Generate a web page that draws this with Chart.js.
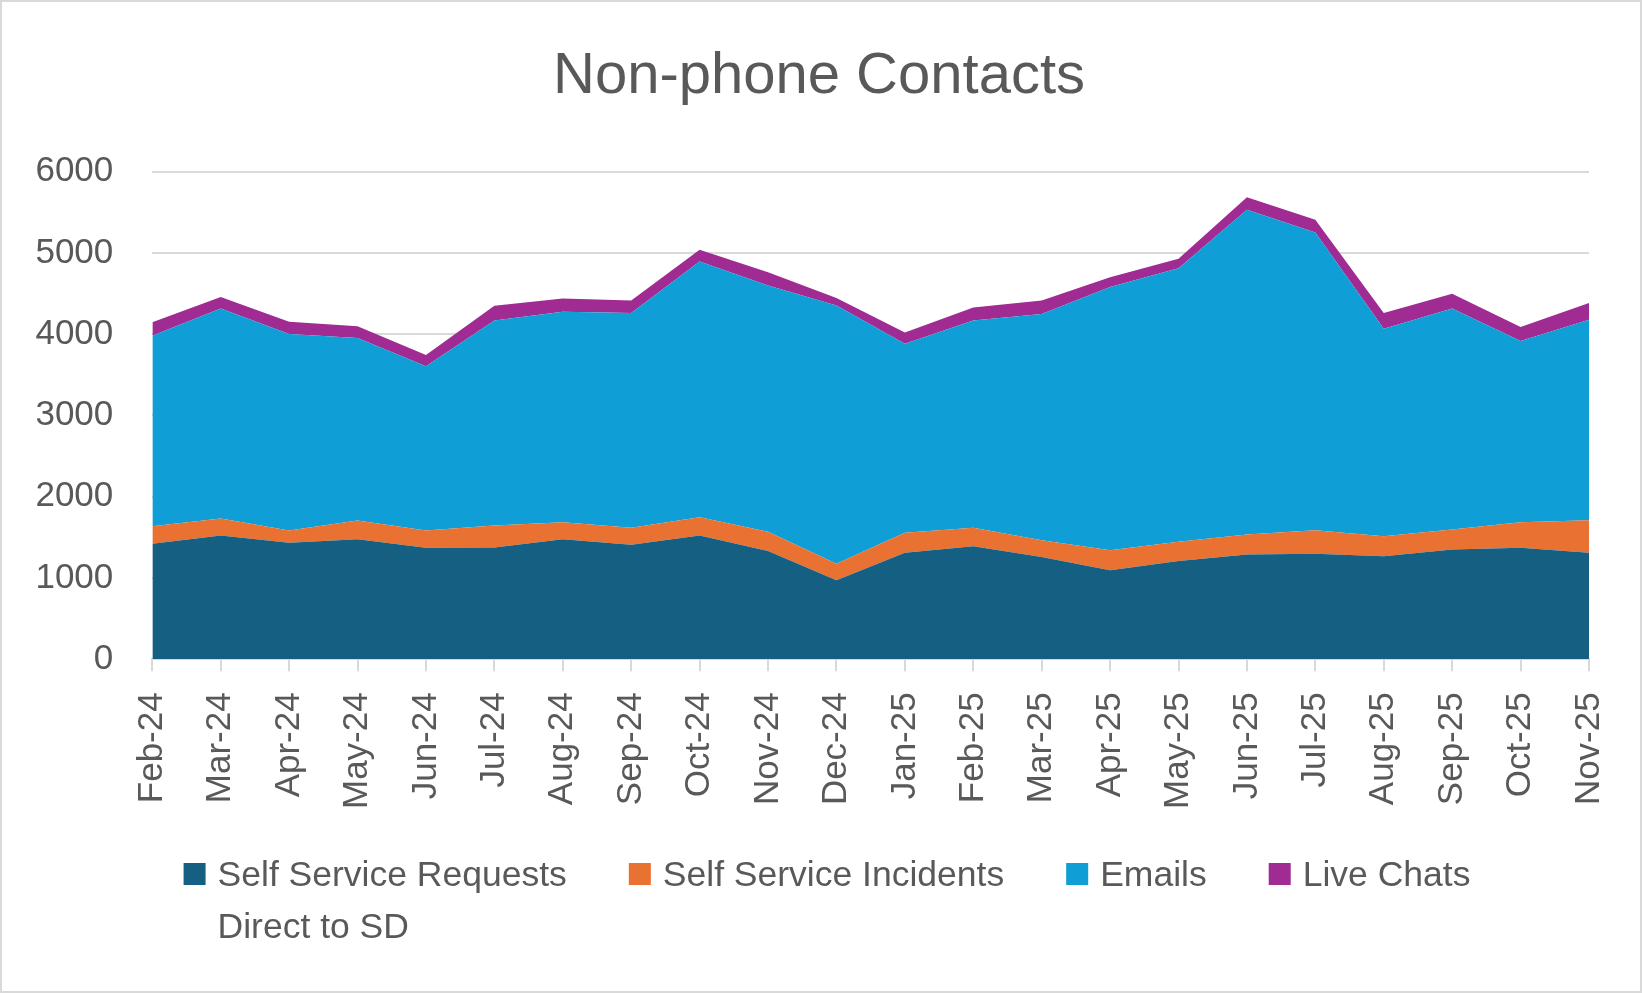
<!DOCTYPE html>
<html>
<head>
<meta charset="utf-8">
<script src="https://cdn.jsdelivr.net/npm/chart.js@4/dist/chart.umd.min.js"></script>
<style>
  body { margin: 0; background: #fff; }
  #wrap { width: 1642px; height: 993px; border: 2px solid #d9d9d9; box-sizing: border-box; }
</style>
</head>
<body>
<div id="wrap"><canvas id="contactsChart"></canvas></div>
<script>
const months = ["Feb-24", "Mar-24", "Apr-24", "May-24", "Jun-24", "Jul-24", "Aug-24", "Sep-24", "Oct-24", "Nov-24", "Dec-24",
    "Jan-25", "Feb-25", "Mar-25", "Apr-25", "May-25", "Jun-25", "Jul-25", "Aug-25", "Sep-25", "Oct-25", "Nov-25"];

const selfServiceRequests = [1421, 1524, 1433, 1478, 1371, 1376, 1478, 1408, 1524, 1331, 971,
    1310, 1392, 1257, 1097, 1208, 1290, 1298, 1269, 1352, 1371, 1310];
const selfServiceIncidents = [217, 209, 152, 230, 214, 271, 209, 209, 225, 237, 204,
    246, 225, 209, 246, 237, 246, 291, 246, 245, 316, 402];
const emails = [2343, 2584, 2416, 2244, 2019, 2522, 2589, 2642, 3145, 3031, 3179,
    2327, 2552, 2781, 3236, 3367, 3994, 3662, 2552, 2720, 2228, 2466];
const liveChats = [167, 139, 152, 144, 139, 181, 164, 156, 144, 164, 90,
    139, 160, 168, 122, 115, 154, 156, 192, 180, 172, 204];

const seriesLabels = [
    ["Self Service Requests", "Direct to SD"],
    ["Self Service Incidents"],
    ["Emails"],
    ["Live Chats"]
];
const seriesColors = ["#156082", "#E97132", "#0F9ED5", "#A02B93"];
const yTicks = [0, 1000, 2000, 3000, 4000, 5000, 6000];

const FONT = '"Liberation Sans", Arial, sans-serif';
const TEXT = "#595959";
const GRID = "#d9d9d9";

function area(idx, values) {
    return {
        label: seriesLabels[idx].join(" "),
        data: values,
        backgroundColor: seriesColors[idx],
        borderWidth: 0,
        pointRadius: 0,
        tension: 0,
        fill: idx === 0 ? "origin" : "-1"
    };
}

// legend drawn by hand so the first label can wrap onto a second line
const wrapLegend = {
    id: "wrapLegend",
    afterDraw(chart) {
        const ctx = chart.ctx;
        const box = 22, gapText = 12, gapItem = 62, lineGap = 52;
        ctx.save();
        ctx.font = "35.5px " + FONT;
        ctx.textBaseline = "alphabetic";
        const firstWidths = seriesLabels.map(lines => ctx.measureText(lines[0]).width);
        let total = 0;
        firstWidths.forEach((w, i) => { total += box + gapText + w + (i < firstWidths.length - 1 ? gapItem : 0); });
        let x = chart.width / 2 - total / 2 + 6;
        const baseY = chart.height - 105;
        seriesLabels.forEach((lines, i) => {
            ctx.fillStyle = seriesColors[i];
            ctx.fillRect(x, baseY - 23, box, box);
            ctx.fillStyle = TEXT;
            lines.forEach((line, j) => {
                ctx.fillText(line, x + box + gapText, baseY + j * lineGap);
            });
            x += box + gapText + firstWidths[i] + gapItem;
        });
        ctx.restore();
    }
};

const ctx = document.getElementById("contactsChart").getContext("2d");
new Chart(ctx, {
    type: "line",
    data: {
        labels: months,
        datasets: [
            area(0, selfServiceRequests),
            area(1, selfServiceIncidents),
            area(2, emails),
            area(3, liveChats)
        ]
    },
    options: {
        responsive: true,
        maintainAspectRatio: false,
        animation: false,
        layout: {
            padding: { left: 31, right: 35, top: 0, bottom: 161 }
        },
        plugins: {
            title: {
                display: true,
                text: "Non-phone Contacts",
                color: TEXT,
                font: { family: FONT, size: 58, weight: "normal" },
                padding: { top: 40, bottom: 60 }
            },
            legend: { display: false },
            tooltip: { mode: "index", intersect: false }
        },
        scales: {
            x: {
                offset: false,
                afterFit(scale) {
                    scale.paddingLeft = 0;
                    scale.paddingRight = 51;
                },
                grid: {
                    drawOnChartArea: false,
                    color: GRID,
                    lineWidth: 2,
                    tickLength: 12
                },
                border: { color: GRID, width: 2 },
                ticks: {
                    color: TEXT,
                    font: { family: FONT, size: 35 },
                    minRotation: 90,
                    maxRotation: 90,
                    padding: 21,
                    autoSkip: false
                }
            },
            y: {
                stacked: true,
                min: yTicks[0],
                max: yTicks[yTicks.length - 1],
                afterFit(scale) {
                    scale.width = 119.3;
                },
                grid: {
                    color: GRID,
                    lineWidth: 2,
                    drawTicks: false
                },
                border: { display: false },
                ticks: {
                    stepSize: 1000,
                    color: TEXT,
                    font: { family: FONT, size: 35 },
                    padding: 39,
                    callback: (value) => String(value)
                }
            }
        }
    },
    plugins: [wrapLegend]
});
</script>
</body>
</html>
